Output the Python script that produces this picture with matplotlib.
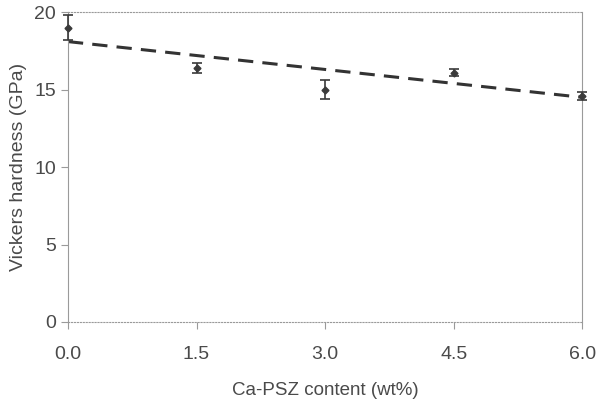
import numpy as np
import matplotlib.pyplot as plt

content = [0.0, 1.5, 3.0, 4.5, 6.0]
hardness = [19.0, 16.4, 15.0, 16.1, 14.6]
hardness_err = [0.8, 0.3, 0.6, 0.2, 0.25]
trend = [18.1, 17.2, 16.3, 15.4, 14.5]

plt.rcParams['font.family'] = ['Liberation Sans', 'DejaVu Sans']
text_col = '#4a4a4a'

fig = plt.figure(figsize=(5.96, 4.05), dpi=100)
ax = fig.add_axes([0.114, 0.205, 0.863, 0.765])

# smooth trend curve through the read trend values
coef = np.polyfit(content, trend, 2)
xs = np.linspace(0, 6, 100)
ax.plot(xs, np.polyval(coef, xs), linestyle=(0, (5, 3)), color='#333333', lw=2.2)

ax.errorbar(content, hardness, yerr=hardness_err, fmt='D', ms=3.5, color='#3a3a3a',
            ecolor='#3a3a3a', elinewidth=1.2, capsize=3.5, capthick=1.2, clip_on=False, zorder=3)

ax.set_xlim(0, 6)
ax.set_ylim(0, 20)
ax.set_xticks(content)
ax.set_xticklabels(['0.0', '1.5', '3.0', '4.5', '6.0'])
ax.set_yticks([0, 5, 10, 15, 20])

for s in ax.spines.values():
    s.set_color('#9a9a9a')
    s.set_linewidth(0.8)
ax.spines['top'].set_linestyle(':')
ax.spines['bottom'].set_linestyle(':')

ax.tick_params(axis='both', colors='#9a9a9a', labelcolor=text_col, labelsize=14, length=5, width=0.8)
ax.tick_params(axis='x', pad=12)
ax.set_xlabel('Ca-PSZ content (wt%)', fontsize=13.5, color=text_col, labelpad=14)
ax.set_ylabel('Vickers hardness (GPa)', fontsize=14, color=text_col)
ax.yaxis.set_label_coords(-0.08, 0.5)

fig.savefig('out.png', dpi=100)
